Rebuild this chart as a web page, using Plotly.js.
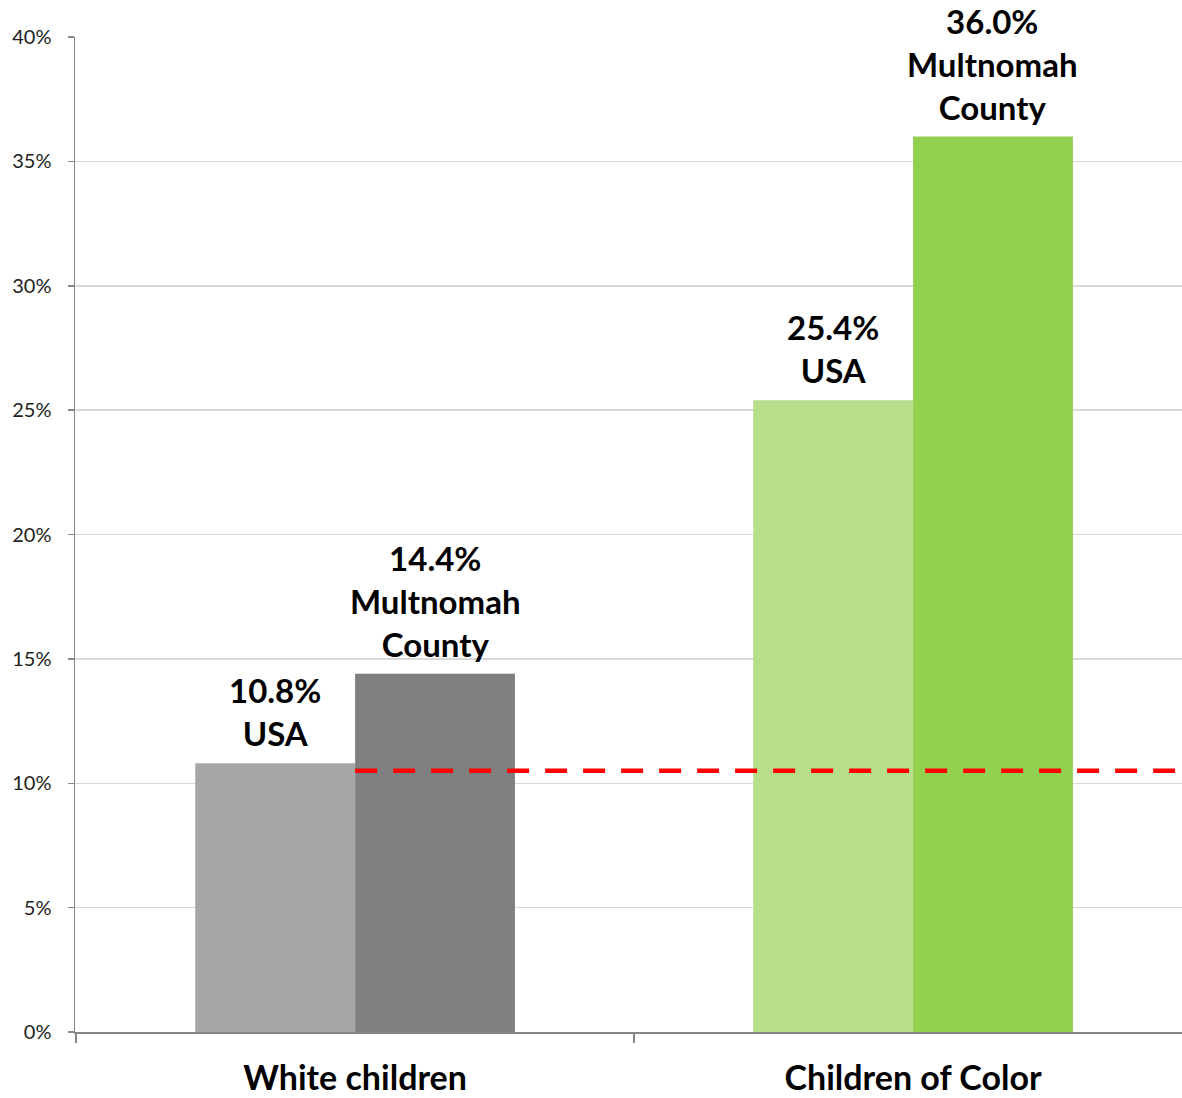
<!DOCTYPE html>
<html>
<head>
<meta charset="utf-8">
<script src="https://cdn.plot.ly/plotly-3.0.1.min.js"></script>
<style>html,body{margin:0;padding:0;background:#fff;}#chart{width:1182px;height:1098px;}</style>
</head>
<body>
<div id="chart"></div>
<script>
const categories = ["White children", "Children of Color"];
const usaValues = [10.8, 25.4];
const multnomahValues = [14.4, 36.0];
const usaLabel = "USA";
const multnomahLabel = "Multnomah<br>County";
const referenceLine = [10.5];
const usaColors = ["#A6A6A6", "#B7DE8B"];
const multnomahColors = ["#7F7F7F", "#92D050"];

const labelFont = {family: "Lato, 'Open Sans', sans-serif", size: 33, color: "#000000", weight: 700};
const bargap = 0.427;
const halfOffset = (1 - bargap) / 4;

const traces = [
  {
    type: "bar", x: categories, y: usaValues, name: "USA",
    marker: {color: usaColors}, hoverinfo: "skip"
  },
  {
    type: "bar", x: categories, y: multnomahValues, name: "Multnomah County",
    marker: {color: multnomahColors}, hoverinfo: "skip"
  }
];

const annotations = [];
categories.forEach((c, i) => {
  annotations.push({
    xref: "x", yref: "y", x: i - halfOffset, y: usaValues[i],
    text: usaValues[i].toFixed(1) + "%<br>" + usaLabel,
    showarrow: false, yanchor: "bottom", xanchor: "center", yshift: 8,
    font: labelFont
  });
  annotations.push({
    xref: "x", yref: "y", x: i + halfOffset, y: multnomahValues[i],
    text: multnomahValues[i].toFixed(1) + "%<br>" + multnomahLabel,
    showarrow: false, yanchor: "bottom", xanchor: "center", yshift: 8,
    font: labelFont
  });
});

const layout = {
  width: 1182, height: 1098,
  margin: {l: 75, r: 0, t: 37, b: 66},
  paper_bgcolor: "#ffffff", plot_bgcolor: "#ffffff",
  showlegend: false,
  barmode: "group", bargap: bargap, bargroupgap: 0,
  font: {family: "Lato, 'Open Sans', sans-serif", color: "#000000"},
  xaxis: {
    type: "category", range: [-0.502, 1.482],
    showline: true, linecolor: "#868686", linewidth: 1.5,
    ticks: "outside", tickson: "boundaries", ticklen: 9, tickcolor: "#868686", tickwidth: 1.5,
    ticklabelstandoff: 16,
    tickfont: {family: "Lato, 'Open Sans', sans-serif", size: 34, color: "#000000", weight: 700},
    showgrid: false, zeroline: false
  },
  yaxis: {
    range: [0, 40], dtick: 5, ticksuffix: "%",
    showline: true, linecolor: "#868686", linewidth: 1.5,
    ticks: "outside", ticklen: 6, tickcolor: "#868686", tickwidth: 1.5,
    ticklabelstandoff: 12,
    tickfont: {family: "Lato, 'Open Sans', sans-serif", size: 20, color: "#222222"},
    showgrid: true, gridcolor: "#D9D9D9", gridwidth: 1.5, zeroline: false
  },
  annotations: annotations,
  shapes: [{
    type: "line", xref: "x", yref: "y", layer: "above",
    x0: categories[0], x1: 2, y0: referenceLine[0], y1: referenceLine[0],
    line: {color: "#FF0000", width: 4.5, dash: "22px,16px"}
  }]
};

Plotly.newPlot("chart", traces, layout, {staticPlot: true, displayModeBar: false});
</script>
</body>
</html>
